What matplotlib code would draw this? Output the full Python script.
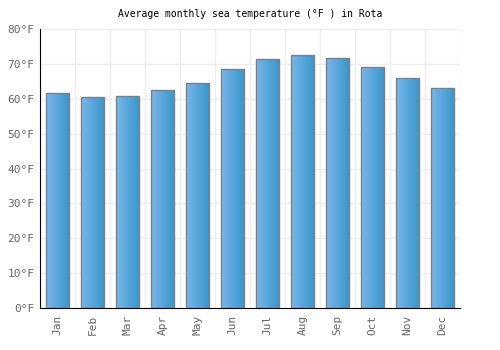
import numpy as np
import matplotlib
matplotlib.use("Agg")
import matplotlib.pyplot as plt
from matplotlib.colors import LinearSegmentedColormap

months = ["Jan", "Feb", "Mar", "Apr", "May", "Jun",
          "Jul", "Aug", "Sep", "Oct", "Nov", "Dec"]
sea_temp_f = [61.8, 60.6, 60.9, 62.4, 64.4, 68.4,
              71.5, 72.7, 71.8, 69.2, 66.1, 63.2]
y_ticks = [0, 10, 20, 30, 40, 50, 60, 70, 80]

plt.rcParams["font.family"] = ["DejaVu Sans Mono"]

fig = plt.figure(figsize=(5, 3.5), dpi=100)
ax = fig.add_axes([0.08, 0.12, 0.84, 0.797])

x = np.arange(len(months))
bars = ax.bar(x, sea_temp_f, width=0.67, facecolor="none",
              edgecolor="#808080", linewidth=1.0, zorder=3)

# horizontal gradient fill, clipped to each bar
cmap = LinearSegmentedColormap.from_list("bar", ["#78b6ea", "#3896cc"])
grad = np.linspace(0, 1, 64).reshape(1, -1)
for b in bars:
    x0, w, h = b.get_x(), b.get_width(), b.get_height()
    im = ax.imshow(grad, cmap=cmap, aspect="auto", extent=(x0, x0 + w, 0, h),
                   zorder=2, interpolation="bilinear")
    im.set_clip_path(b)

ax.set_xlim(-0.5, len(months) - 0.5)
ax.set_ylim(0, 80)
ax.set_yticks(y_ticks)
ax.set_yticklabels([f"{v}°F" for v in y_ticks])
ax.set_xticks(x)
ax.set_xticklabels(months, rotation=90)

# grid: horizontal at ticks, vertical at category boundaries
for v in y_ticks:
    ax.axhline(v, color="#eeeeee", lw=1, zorder=0)
for xb in np.arange(-0.5, len(months) + 0.5, 1):
    ax.axvline(xb, color="#eeeeee", lw=1, zorder=0)

for s in ("top", "right"):
    ax.spines[s].set_visible(False)
ax.spines["left"].set_color("black")
ax.spines["bottom"].set_color("black")
ax.tick_params(axis="both", colors="#666666", labelsize=8, length=0, pad=4)
ax.tick_params(axis="x", pad=5)

ax.set_title("Average monthly sea temperature (°F ) in Rota",
             fontsize=7, color="black", pad=9)

fig.savefig("out.png", dpi=100)
